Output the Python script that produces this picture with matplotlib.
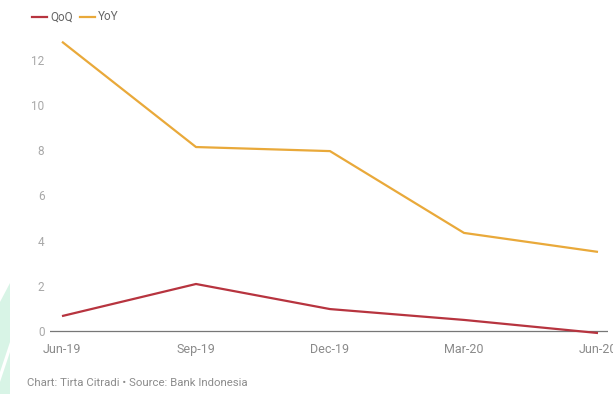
import matplotlib
matplotlib.use("Agg")
import matplotlib.pyplot as plt
from matplotlib.patches import Polygon
from matplotlib.lines import Line2D

plt.rcParams['font.family'] = ['Roboto', 'DejaVu Sans']

categories = ["Jun-19", "Sep-19", "Dec-19", "Mar-20", "Jun-20"]
qoq = [0.66, 2.08, 0.97, 0.49, -0.09]
yoy = [12.8, 8.14, 7.96, 4.34, 3.5]
yticks = [0, 2, 4, 6, 8, 10, 12]

W, H = 613, 394
fig = plt.figure(figsize=(W/100, H/100), dpi=100)

# faint watermark at left
fig.patches.append(Polygon([(0, 0), (10/W, 0), (10/W, 1-283/H), (0, 1-302/H)],
                           closed=True, transform=fig.transFigure,
                           facecolor="#d8f4e6", edgecolor="none", zorder=0))
fig.patches.append(Polygon([(0, 1-372/H), (10/W, 1-342/H), (10/W, 1-352/H), (0, 1-382/H)],
                           closed=True, transform=fig.transFigure,
                           facecolor="white", edgecolor="none", zorder=0))

ax_left, ax_right = 50/W, 608/W
y0_px = 331
ppu = 22.6
ymin, ymax = -0.4, 13.3
ax_bottom = 1 - (y0_px - ymin*ppu)/H
ax_top = 1 - (y0_px - ymax*ppu)/H
ax = fig.add_axes([ax_left, ax_bottom, ax_right-ax_left, ax_top-ax_bottom])
ax.patch.set_alpha(0)

x = list(range(len(categories)))
ax.plot(x, yoy, color="#e9a93a", lw=1.6, solid_capstyle="butt", zorder=3)
ax.plot(x, qoq, color="#b7343f", lw=1.6, solid_capstyle="butt", zorder=3)
ax.axhline(0, color="#777777", lw=0.9, zorder=2)

ax.set_xlim(-12/134, 4 + 10/134)
ax.set_ylim(ymin, ymax)
for s in ax.spines.values():
    s.set_visible(False)
ax.set_yticks(yticks)
ax.set_yticklabels([str(t) for t in yticks])
ax.set_xticks(x)
ax.set_xticklabels(categories)
ax.tick_params(axis="y", length=0, pad=4, labelsize=8.5, labelcolor="#a8a8a8")
ax.tick_params(axis="x", length=0, pad=2, labelsize=9, labelcolor="#8a8a8a")

# legend
ly = 1 - 17/H
fig.add_artist(Line2D([32/W, 47/W], [ly, ly], color="#b7343f", lw=1.6, transform=fig.transFigure))
fig.text(50/W, ly, "QoQ", fontsize=8.5, color="#666666", va="center", ha="left")
fig.add_artist(Line2D([80/W, 95/W], [ly, ly], color="#e9a93a", lw=1.6, transform=fig.transFigure))
fig.text(98/W, ly, "YoY", fontsize=8.5, color="#666666", va="center", ha="left")

fig.text(27/W, 1 - 383/H, "Chart: Tirta Citradi \u2022 Source: Bank Indonesia",
         fontsize=8.2, color="#8c8c8c", va="center", ha="left")

fig.savefig("out.png", dpi=100)
